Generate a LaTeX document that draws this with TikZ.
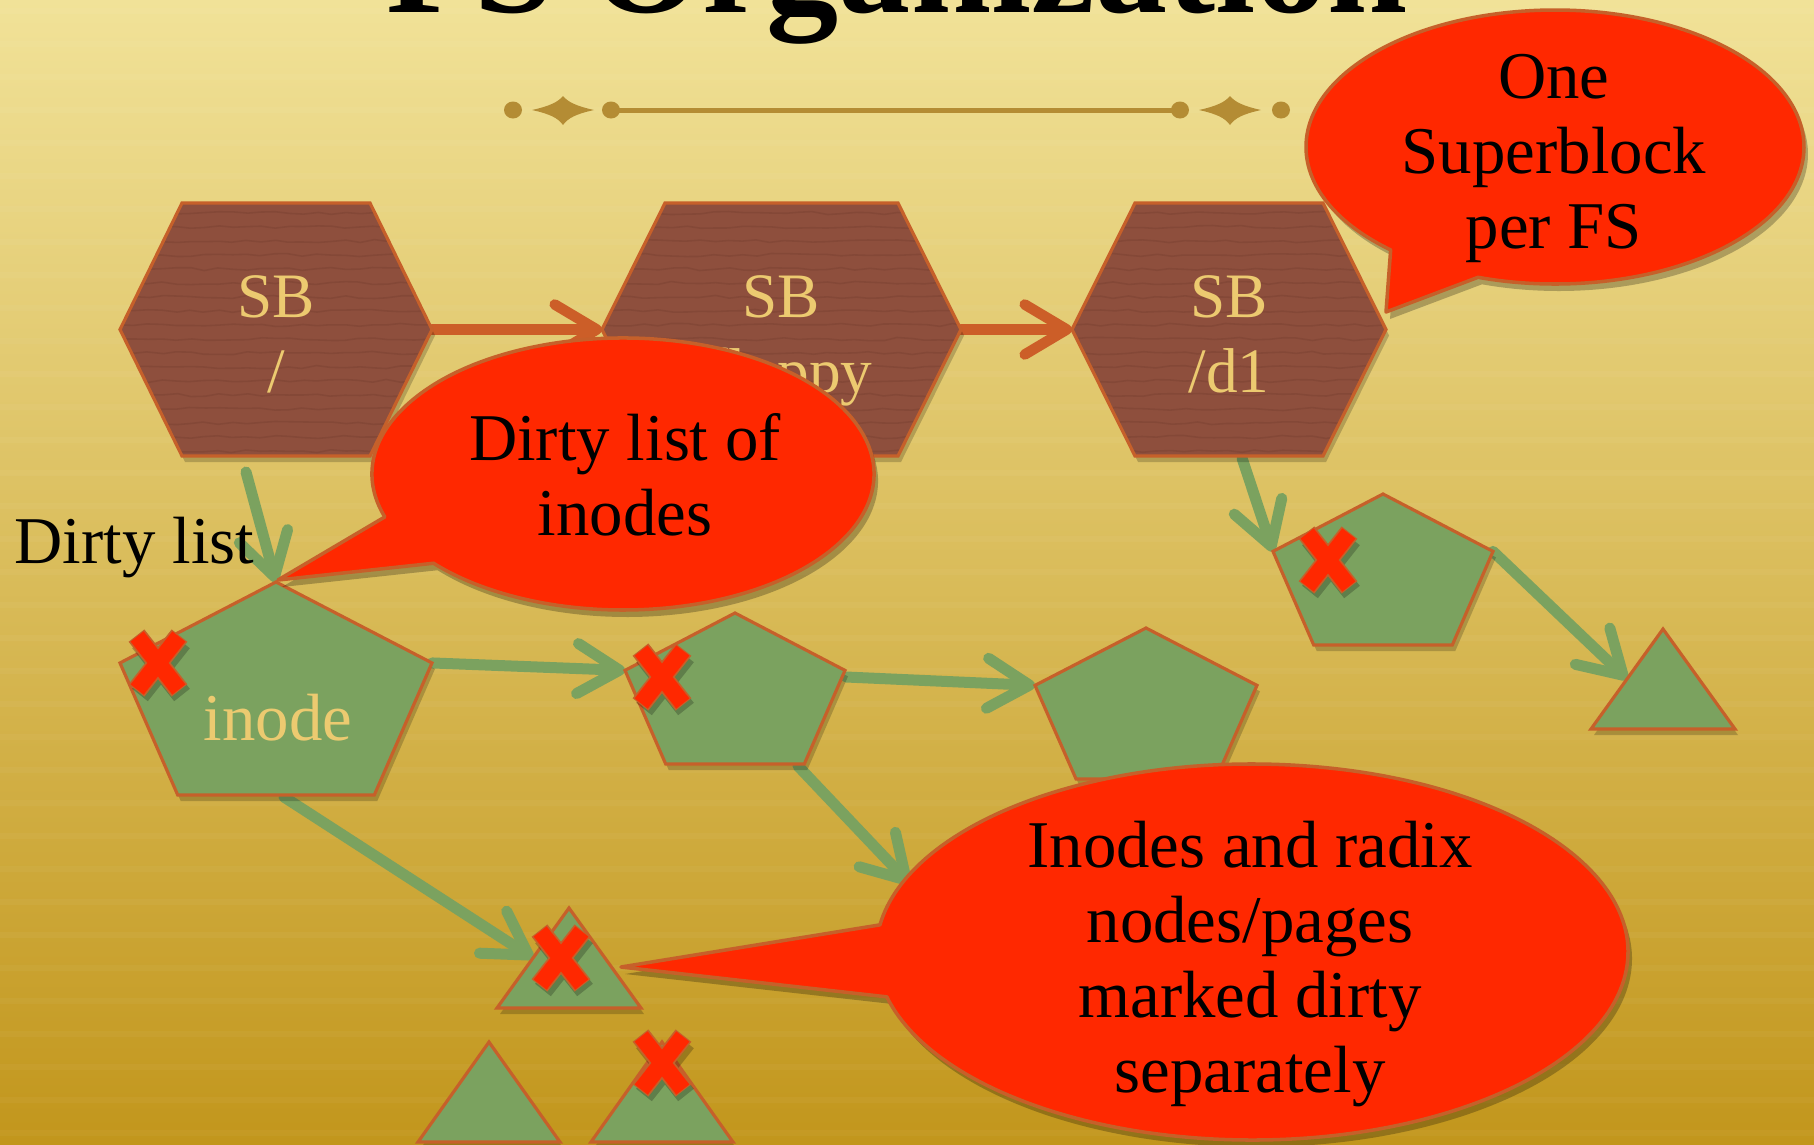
\documentclass[tikz,border=0pt]{standalone}
\usepackage{fontspec}
\setmainfont{Liberation Serif}
\usetikzlibrary{arrows.meta,decorations.pathmorphing,calc}

\definecolor{bgtop}{RGB}{241,226,152}
\definecolor{bgmid}{RGB}{218,188,96}
\definecolor{bgbot}{RGB}{194,150,28}
\definecolor{orn}{RGB}{180,140,52}
\definecolor{hexfill}{RGB}{142,79,61}
\definecolor{hexdark}{RGB}{105,52,40}
\definecolor{edge}{RGB}{198,96,42}
\definecolor{leaf}{RGB}{123,162,95}
\definecolor{goldtext}{RGB}{236,202,112}
\definecolor{callout}{RGB}{255,40,0}
\definecolor{rust}{RGB}{204,94,40}

\pgfdeclarelayer{paper}
\pgfdeclarelayer{links}
\pgfsetlayers{paper,links,main}

\tikzset{
  shapeshadow/.style={fill=black, opacity=0.2},
  hexstyle/.style={fill=hexfill},
  hexedge/.style={draw=edge, line width=0.9pt, line join=miter},
  hextex/.style={draw=hexdark, line width=0.45pt, opacity=0.25, decorate,
    decoration={random steps, segment length=4pt, amplitude=0.45pt}},
  leafstyle/.style={fill=leaf, draw=edge, line width=0.9pt},
  garrow/.style={draw=leaf, line width=1.1mm, line cap=round,
    -{Straight Barb[round,length=4.2mm,width=5mm]}},
  oarrow/.style={draw=rust, line width=1.05mm, line cap=round,
    -{Straight Barb[round,length=4.2mm,width=5mm]}},
  sbtext/.style={font=\fontsize{18}{21.3}\selectfont, text=goldtext,
    align=center, anchor=base, inner sep=0pt},
  calltext/.style={font=\fontsize{19}{21.3}\selectfont, text=black,
    align=center, anchor=base, inner sep=0pt},
}

% superblock hexagon: name, left x, top y, width, height, inset
\newcommand\hexblock[6]{%
  \coordinate (#1-L)  at (#2,#3+#5/2);
  \coordinate (#1-TL) at (#2+#6,#3);
  \coordinate (#1-TR) at (#2+#4-#6,#3);
  \coordinate (#1-R)  at (#2+#4,#3+#5/2);
  \coordinate (#1-BR) at (#2+#4-#6,#3+#5);
  \coordinate (#1-BL) at (#2+#6,#3+#5);
  \fill[shapeshadow] ([shift={(3,6)}]#1-L) -- ([shift={(3,6)}]#1-TL) -- ([shift={(3,6)}]#1-TR)
    -- ([shift={(3,6)}]#1-R) -- ([shift={(3,6)}]#1-BR) -- ([shift={(3,6)}]#1-BL) -- cycle;
  \fill[hexstyle] (#1-L) -- (#1-TL) -- (#1-TR) -- (#1-R) -- (#1-BR) -- (#1-BL) -- cycle;
  \begin{scope}
    \clip (#1-L) -- (#1-TL) -- (#1-TR) -- (#1-R) -- (#1-BR) -- (#1-BL) -- cycle;
    \foreach \k in {1,...,18} {\draw[hextex] (#2,#3+\k*14-4) -- (#2+#4,#3+\k*14-4);}
  \end{scope}
  \draw[hexedge] (#1-L) -- (#1-TL) -- (#1-TR) -- (#1-R) -- (#1-BR) -- (#1-BL) -- cycle;
}

% inode pentagon: name, left x, top y, width, height
\newcommand\pentblock[5]{%
  \coordinate (#1-T)  at (#2+#4/2,#3);
  \coordinate (#1-L)  at (#2,#3+0.38*#5);
  \coordinate (#1-R)  at (#2+#4,#3+0.38*#5);
  \coordinate (#1-BR) at (#2+0.815*#4,#3+#5);
  \coordinate (#1-BL) at (#2+0.185*#4,#3+#5);
  \fill[shapeshadow] ([shift={(3,6)}]#1-T) -- ([shift={(3,6)}]#1-R) -- ([shift={(3,6)}]#1-BR)
    -- ([shift={(3,6)}]#1-BL) -- ([shift={(3,6)}]#1-L) -- cycle;
  \filldraw[leafstyle] (#1-T) -- (#1-R) -- (#1-BR) -- (#1-BL) -- (#1-L) -- cycle;
}

% radix page triangle: name, apex x, apex y, half base, height
\newcommand\triblock[5]{%
  \coordinate (#1-T)  at (#2,#3);
  \coordinate (#1-BL) at (#2-#4,#3+#5);
  \coordinate (#1-BR) at (#2+#4,#3+#5);
  \coordinate (#1-ml) at (#2-#4/2,#3+#5/2);
  \fill[shapeshadow] ([shift={(3,6)}]#1-T) -- ([shift={(3,6)}]#1-BR) -- ([shift={(3,6)}]#1-BL) -- cycle;
  \filldraw[leafstyle] (#1-T) -- (#1-BR) -- (#1-BL) -- cycle;
}

% dirty mark: name, centre x, centre y
\newcommand\dirtymark[3]{%
  \coordinate (#1) at (#2,#3);
  \draw[line width=2mm, black, opacity=0.22] (#2-18,#3-21) -- (#2+24,#3+32) (#2+24,#3-21) -- (#2-18,#3+32);
  \draw[line width=2mm, edge] (#2-21.5,#3-27.4) -- (#2+21.5,#3+27.4) (#2+21.5,#3-27.4) -- (#2-21.5,#3+27.4);
  \draw[line width=1.65mm, callout] (#2-20.8,#3-26.5) -- (#2+20.8,#3+26.5) (#2+20.8,#3-26.5) -- (#2-20.8,#3+26.5);
}

% speech bubble: options, cx, cy, rx, ry, start angle, end angle, tail tip
\newcommand\calloutdraw[8]{%
  \path[#1] ([shift={(#2,#3)}]#6:#4 and #5) arc[start angle=#6, end angle=#7, x radius=#4, y radius=#5]
    -- (#8) -- cycle;
}

\begin{document}
\begin{tikzpicture}[x=0.01cm, y=-0.01cm]
\useasboundingbox (0,0) rectangle (1814,1145);

% paper backdrop
\begin{pgfonlayer}{paper}
  \shade[top color=bgtop, middle color=bgmid, bottom color=bgbot] (0,0) rectangle (1814,1145);
  \foreach \k in {0,...,34} {\fill[white, opacity=0.035] (0,\k*33+8) rectangle (1814,\k*33+14);}
\end{pgfonlayer}

% title and rule
\node[font=\fontsize{41}{41}\selectfont\bfseries, anchor=base, inner sep=0pt] (title) at (897,12) {FS Organization};
\fill[orn] (619,108) rectangle (1174,112.5);
\fill[orn] (513,110) ellipse [x radius=9, y radius=8.5];
\fill[orn] (611,110) ellipse [x radius=9, y radius=8.5];
\fill[orn] (1180,110) ellipse [x radius=9, y radius=8.5];
\fill[orn] (1281,110) ellipse [x radius=9, y radius=8.5];
\fill[orn] (532,110) .. controls (550,106) and (558,102) .. (563,96) .. controls (568,102) and (576,106) .. (594,110)
  .. controls (576,114) and (568,118) .. (563,125) .. controls (558,118) and (550,114) .. (532,110) -- cycle;
\fill[orn] (1199,110) .. controls (1217,106) and (1225,102) .. (1230,96) .. controls (1235,102) and (1243,106) .. (1261,110)
  .. controls (1243,114) and (1235,118) .. (1230,125) .. controls (1225,118) and (1217,114) .. (1199,110) -- cycle;

% superblocks
\pgfmathsetseed{11}
\hexblock{sbroot}{120}{203}{312}{253}{62}
\hexblock{sbfloppy}{602}{203}{359}{253}{63}
\hexblock{sbdone}{1072}{203}{314}{253}{63}
\node[sbtext] (sbroot-txt) at (276,392) {SB\\/};
\node[sbtext] (sbfloppy-txt) at (781,392) {SB\\/floppy};
\node[sbtext] (sbdone-txt) at (1229,392) {SB\\/d1};

% inodes
\pentblock{ino1}{120}{582}{312}{213}
\pentblock{ino2}{625}{613}{220}{151}
\pentblock{ino3}{1035}{628}{222}{151}
\pentblock{ino4}{1273}{494}{220}{151}
\node[font=\fontsize{19}{21}\selectfont, text=goldtext, anchor=base, inner sep=0pt] (ino1-txt) at (278,740) {inode};

% radix pages
\triblock{pg1}{1663}{629}{72}{100}
\triblock{pg2}{569}{908}{72}{100}
\triblock{pg3}{489}{1042}{71}{100}
\triblock{pg4}{662}{1042}{71}{100}

% connector end points that are not shape corners
\coordinate (rootdown) at (246,472);
\coordinate (ino1-B) at (284,797);
\coordinate (ino2-Rs) at (846,677);
\coordinate (ino2-B) at (798,766);
\coordinate (hidden) at (910,884);
\coordinate (d1down) at (1242,458);

\begin{pgfonlayer}{links}
  \draw[oarrow] (sbroot-R) -- (sbfloppy-L);
  \draw[oarrow] (sbfloppy-R) -- (sbdone-L);
  \draw[garrow] (rootdown) -- (ino1-T);
  \draw[garrow] (ino1-R) -- (ino2-L);
  \draw[garrow] (ino2-Rs) -- (ino3-L);
  \draw[garrow] (ino1-B) -- (pg2-ml);
  \draw[garrow] (ino2-B) -- (hidden);
  \draw[garrow] (d1down) -- (ino4-L);
  \draw[garrow] (ino4-R) -- (pg1-ml);
\end{pgfonlayer}

% dirty marks
\dirtymark{x1}{158}{663}
\dirtymark{x2}{662}{677}
\dirtymark{x3}{1328}{560}
\dirtymark{x4}{561}{958}
\dirtymark{x5}{662}{1063}

\node[font=\fontsize{19}{21}\selectfont, anchor=base west, inner sep=0pt] (dirtylabel) at (14,563) {Dirty list};

% call-outs
\calloutdraw{fill=black, opacity=0.25, shift={(4,7)}}{623}{474}{251}{136}{161.6}{499}{278,580}
\calloutdraw{fill=callout, draw=edge, line width=1pt, line join=round}{623}{474}{251}{136}{161.6}{499}{278,580}
\node[calltext] (note-list) at (625,535) {Dirty list of\\inodes};

\calloutdraw{fill=black, opacity=0.25, shift={(4,7)}}{1555}{147}{249}{137}{131.3}{468}{1386,312}
\calloutdraw{fill=callout, draw=edge, line width=1pt, line join=round}{1555}{147}{249}{137}{131.3}{468}{1386,312}
\node[calltext] (note-sb) at (1554,248) {One\\Superblock\\per FS};

\calloutdraw{fill=black, opacity=0.25, shift={(4,7)}}{1252}{952}{376}{188}{188.3}{526.2}{621,967}
\calloutdraw{fill=callout, draw=edge, line width=1pt, line join=round}{1252}{952}{376}{188}{188.3}{526.2}{621,967}
\node[calltext] (note-radix) at (1250,1092) {Inodes and radix\\nodes/pages\\marked dirty\\separately};

\end{tikzpicture}
\end{document}
